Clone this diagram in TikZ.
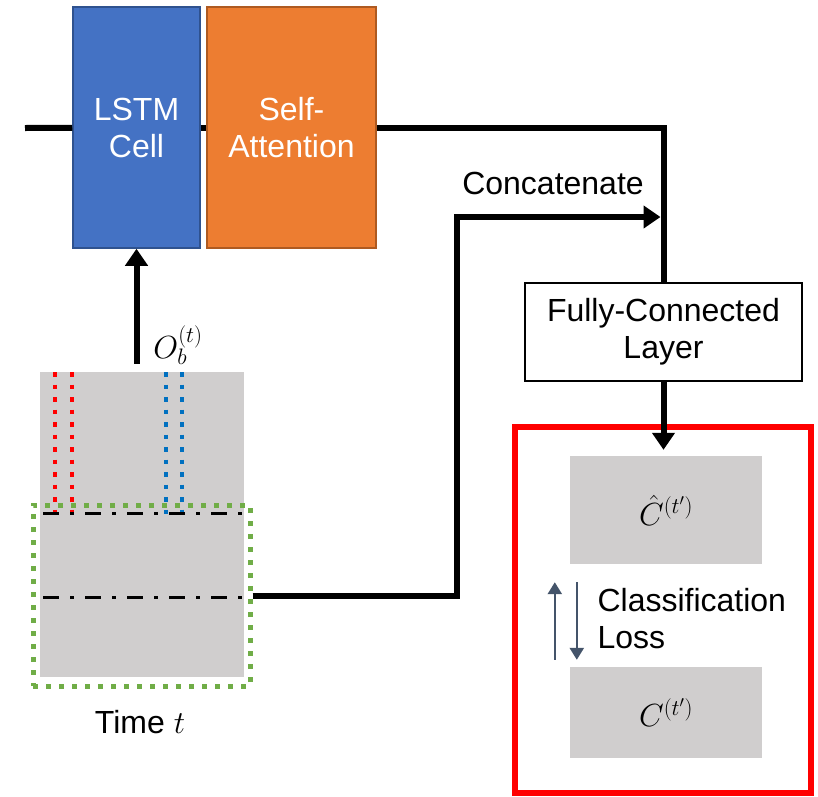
\RequirePackage{fix-cm}
\documentclass[tikz,border=0pt]{standalone}
\usepackage{fontspec}
\setmainfont{Liberation Sans}
\usetikzlibrary{positioning, arrows.meta}

\definecolor{lstmblue}{HTML}{4472C4}
\definecolor{lstmedge}{HTML}{2F528F}
\definecolor{attnorange}{HTML}{ED7D31}
\definecolor{attnedge}{HTML}{AE5A21}
\definecolor{obsgray}{HTML}{D0CECE}
\definecolor{wingreen}{HTML}{70AD47}
\definecolor{dotblue}{HTML}{0070C0}
\definecolor{slate}{HTML}{44546A}

\begin{document}
\begin{tikzpicture}[x=1pt, y=-1pt, font=\fontsize{32}{37}\selectfont]

	\tikzstyle{cell}=[draw, line width=1.5pt, text=white, align=center, minimum height=241pt]
	\tikzstyle{fcbox}=[draw, line width=1.5pt, align=center, minimum width=277pt, minimum height=98pt]
	\tikzstyle{graybox}=[fill=obsgray, minimum width=192pt, minimum height=108pt]
	\tikzstyle{window}=[draw=wingreen, line width=5pt, dash pattern=on 5pt off 8pt, minimum width=217pt, minimum height=181pt]
	\tikzstyle{lossbox}=[draw=red, line width=6pt, minimum width=296pt, minimum height=366pt]

	\tikzstyle{wire}=[line width=6pt]
	\tikzstyle{arrow}=[line width=6pt, -{Triangle[length=17pt, width=22pt]}]
	\tikzstyle{lossarrow}=[slate, line width=2.5pt, -{Triangle[length=12pt, width=14pt]}]
	\tikzstyle{feature}=[line width=4.5pt, dash pattern=on 4.5pt off 8pt]
	\tikzstyle{dashdot}=[line width=3pt, dash pattern=on 16pt off 11pt on 4pt off 11pt]

	\useasboundingbox (0,0) rectangle (818,796);

	\node[cell, fill=lstmblue, draw=lstmedge, minimum width=127pt] (lstm) at (136.5,127.5) {LSTM\\Cell};
	\node[cell, fill=attnorange, draw=attnedge, minimum width=169pt] (attn) at (291.5,127.5) {Self-\\Attention};
	\node[fcbox] (fc) at (663.5,332) {Fully-Connected\\Layer};

	\coordinate (input) at (25,128);
	\draw[wire] (input) -- (lstm);
	\draw[wire] (lstm) -- (attn);
	\draw[wire] (attn) -| (fc);

	% observation block
	\node[fill=obsgray, minimum width=204pt, minimum height=305pt] (obs) at (142,524.5) {};
	\draw[feature, red] (55,372) -- (55,517);
	\draw[feature, red] (72,372) -- (72,517);
	\draw[feature, dotblue] (166,372) -- (166,517);
	\draw[feature, dotblue] (182,372) -- (182,517);
	\draw[dashdot] (43,513) -- (242,513);
	\draw[dashdot] (43,597) -- (242,597);
	\node[window] (win) at (141.5,595.5) {};
	\node (time) at (140,722) {Time $t$};

	\draw[arrow] ([yshift=8pt]obs.north -| lstm.south) -- (lstm.south);
	\node (obslabel) at (178,345) {$O_b^{(t)}$};

	% concatenate
	\coordinate (bend) at (457,217);
	\draw[arrow] (win.east) -| (bend) -- ([xshift=-3pt]bend -| fc);
	\node (concat) at (553,183) {Concatenate};

	% loss
	\node[lossbox] (loss) at (663,610) {};
	\node[graybox] (pred) at (666,510) {$\hat{C}^{(t')}$};
	\node[graybox, minimum height=91pt] (gt) at (666,712.5) {$C^{(t')}$};
	\draw[arrow] (fc) -- ([yshift=6pt]fc.south |- pred.north);

	\draw[lossarrow] ([xshift=-15pt, yshift=7pt]gt.north west) -- ([xshift=-15pt, yshift=-18pt]pred.south west);
	\draw[lossarrow] ([xshift=7pt, yshift=-18pt]pred.south west) -- ([xshift=7pt, yshift=7pt]gt.north west);
	\node[anchor=west, align=left] (losstext) at (594,619) {Classification\\Loss};

\end{tikzpicture}
\end{document}
